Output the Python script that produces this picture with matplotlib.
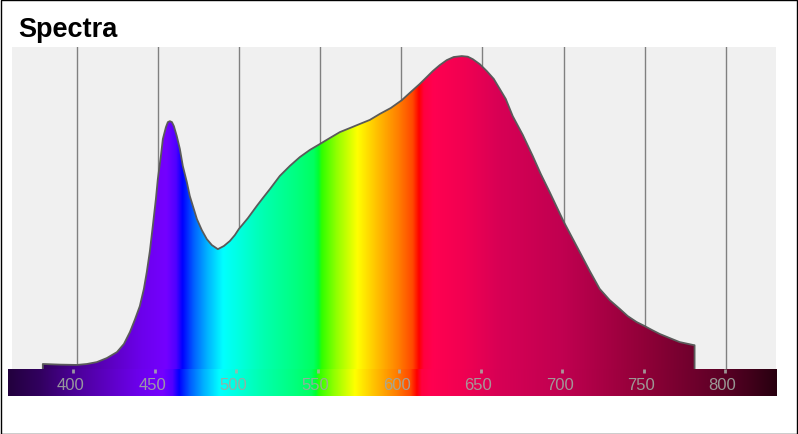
import numpy as np
import matplotlib
matplotlib.use("Agg")
import matplotlib.pyplot as plt
from matplotlib.colors import LinearSegmentedColormap
from matplotlib.patches import Polygon, Rectangle

plt.rcParams['font.family'] = ['Liberation Sans', 'DejaVu Sans']

# ---- data: relative spectral intensity (% of peak) ----
wavelength = [379.0, 389.5, 400.0, 406.2, 412.3, 418.5, 424.7, 429.0, 432.7, 435.7, 438.8,
              441.3, 443.1, 445.0, 446.8, 448.7, 449.9, 451.8, 453.0, 454.9, 456.1, 457.3,
              458.6, 459.8, 461.6, 463.5, 465.3, 467.8, 469.6, 472.1, 474.0, 477.0, 480.1,
              483.2, 486.9, 490.6, 494.3, 497.4, 499.8, 505.4, 510.9, 514.6, 519.0, 525.1,
              531.3, 537.4, 543.6, 549.8, 555.9, 562.1, 568.3, 574.4, 580.6, 586.7, 593.5,
              600.3, 605.8, 611.4, 615.7, 619.4, 623.7, 628.0, 632.3, 637.3, 641.0, 644.1,
              648.4, 652.7, 657.0, 660.7, 664.4, 668.7, 674.9, 681.0, 686.0, 691.5, 695.8,
              700.2, 705.1, 710.0, 716.2, 722.3, 728.5, 734.7, 739.6, 745.1, 750.1, 754.4,
              759.3, 765.4, 771.6, 779.7, 780.8]
intensity = [1.6, 1.4, 1.3, 1.6, 2.2, 3.5, 5.4, 8.0, 11.8, 15.7, 20.1,
             25.6, 31.0, 37.7, 45.7, 54.3, 60.7, 68.1, 73.5, 77.3, 78.9, 79.2,
             78.9, 77.6, 74.4, 70.3, 64.9, 59.7, 55.3, 51.1, 47.9, 44.4, 41.5,
             39.6, 38.3, 39.3, 40.9, 42.8, 44.7, 48.2, 52.1, 54.6, 57.5, 61.7,
             64.9, 67.7, 70.0, 71.9, 73.8, 75.7, 77.0, 78.3, 79.6, 81.5, 83.4,
             85.9, 88.5, 91.1, 93.3, 95.2, 97.1, 98.7, 99.7, 100.0, 99.8, 99.0,
             97.4, 95.2, 92.7, 89.5, 86.3, 80.8, 74.8, 68.1, 62.3, 56.5, 51.8,
             47.0, 42.2, 37.4, 31.3, 25.6, 22.0, 19.2, 16.9, 15.0, 13.7, 12.5,
             11.2, 9.9, 8.6, 7.7, 7.6]
tick_values = [400, 450, 500, 550, 600, 650, 700, 750, 800]
tick_labels = ["400", "450", "500", "550", "600", "650", "700", "750", "800"]
title = "Spectra"

# wavelength -> colour stops
color_stops_nm = [357, 380, 400, 420, 440, 455, 461, 465, 472, 480, 490, 500, 515, 535,
                  546, 549, 551, 560, 573, 585, 598, 607, 611, 614, 620, 640, 660, 700,
                  750, 800, 832]
color_stops = ["#200038", "#320060", "#4a0095", "#5c00c0", "#6c00ec", "#7400ff", "#5000ff",
               "#0000ff", "#0060ff", "#00b0ff", "#00ffff", "#00ffe0", "#00ffb0", "#00ff80",
               "#00ff60", "#00ff30", "#30ff00", "#90ff00", "#ffff00", "#ffc000", "#ff8000",
               "#ff4800", "#ff0000", "#ff0040", "#ff0050", "#f00052", "#d80055", "#c00050",
               "#900038", "#5a0025", "#280010"]

W, H = 798, 435
fig = plt.figure(figsize=(W / 100, H / 100), dpi=100)

lo, hi = color_stops_nm[0], color_stops_nm[-1]
pos = [(v - lo) / (hi - lo) for v in color_stops_nm]
cmap = LinearSegmentedColormap.from_list("spec", list(zip(pos, color_stops)), N=1024)
grad = np.linspace(0, 1, 1024).reshape(1, -1)

# main axes
ax = fig.add_axes([12 / W, (H - 370) / H, 764 / W, 322 / H])
xmin, xmax = 360, 831
ymax = 102.9
ax.set_facecolor("#f0f0f0")
for s in ax.spines.values():
    s.set_visible(False)
ax.set_xticks([])
ax.set_yticks([])
for t in tick_values:
    ax.axvline(t, color="#808080", lw=1.0, zorder=1)

xs = [wavelength[0]] + list(wavelength) + [wavelength[-1]]
ys = [0] + list(intensity) + [0]
poly = Polygon(np.column_stack([xs, ys]), closed=True, facecolor="none", edgecolor="none")
ax.add_patch(poly)
im = ax.imshow(grad, extent=[lo, hi, 0, ymax], aspect="auto", cmap=cmap, zorder=2,
               interpolation="bilinear")
im.set_clip_path(poly)
ax.plot(xs, ys, color="#5a5a5a", lw=1.3, zorder=3, solid_joinstyle="round")
ax.set_xlim(xmin, xmax)
ax.set_ylim(0, ymax)

# colour bar strip
cax = fig.add_axes([8 / W, (H - 397) / H, 769 / W, 27 / H])
cax.imshow(grad, extent=[lo, hi, 0, 1], aspect="auto", cmap=cmap, interpolation="bilinear")
cax.set_xlim(360.1, 831.9)
cax.set_ylim(0, 1)
cax.axis("off")
for t, lab in zip(tick_values, tick_labels):
    cax.plot([t, t], [1.0, 0.85], color="#a8b0a8", lw=2.0, alpha=0.85, solid_capstyle="butt")
    cax.text(t - 1.5, 0.42, lab, ha="center", va="center", fontsize=12,
             color="#a0a8a0", alpha=0.9)

fig.text(18 / W, 1 - 30 / H, title, fontsize=19.5, fontweight="bold", ha="left", va="center",
         color="#000000")

fig.patches.append(Rectangle((0.5 / W, 0.5 / H), (W - 1.5) / W, (H - 1.5) / H,
                             transform=fig.transFigure, fill=False, edgecolor="black", lw=1.0))

fig.savefig("out.png", dpi=100)
